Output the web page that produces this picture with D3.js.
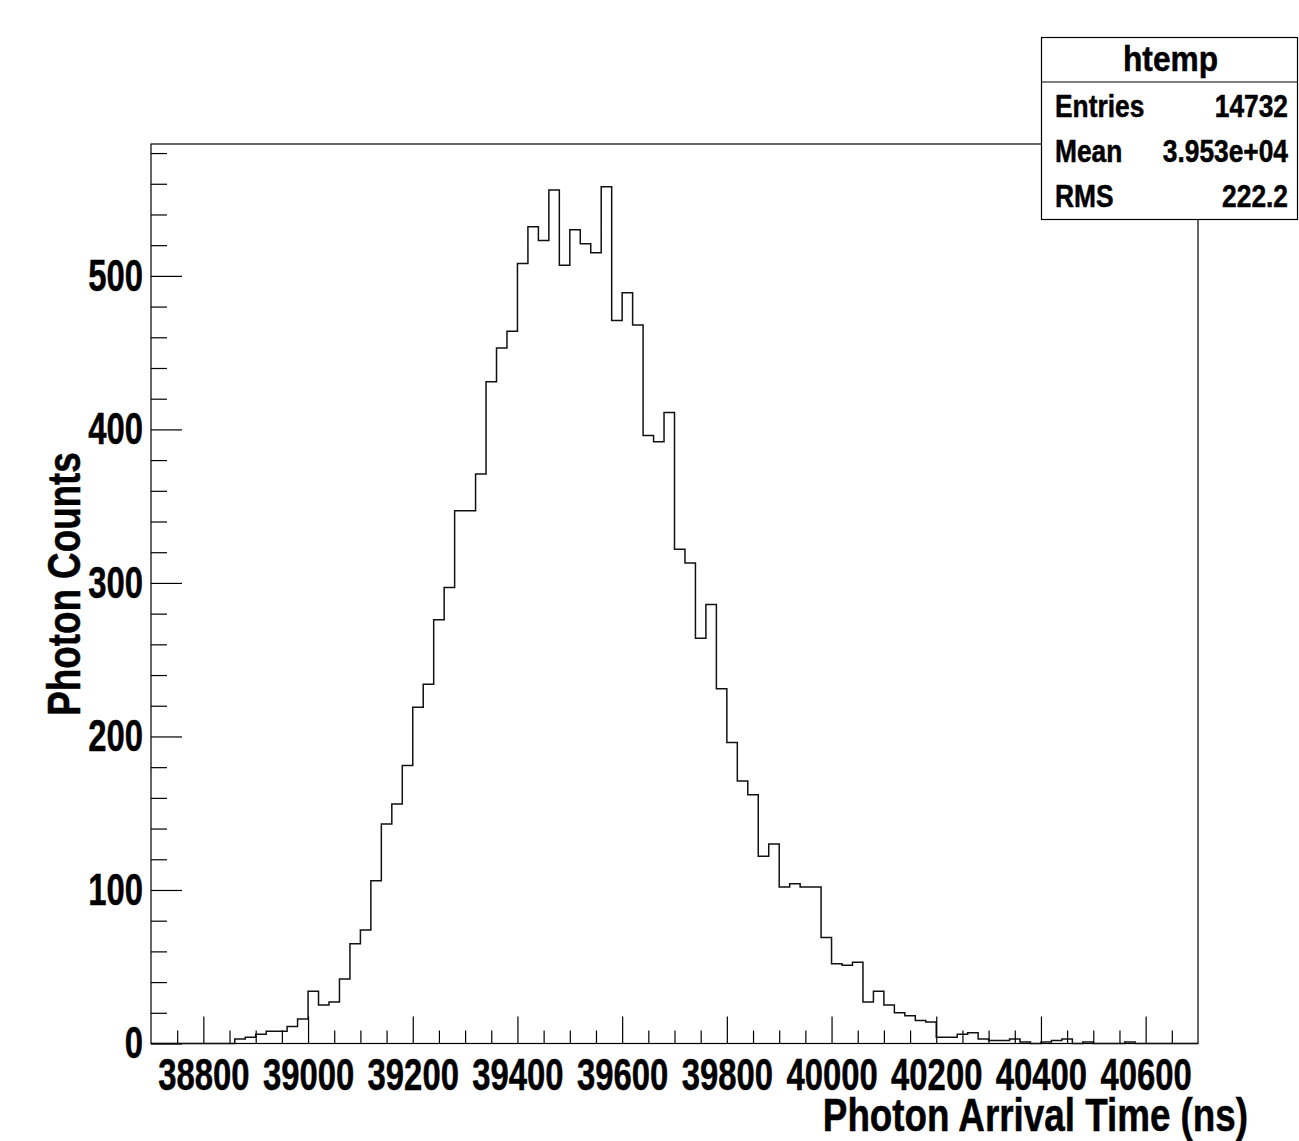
<!DOCTYPE html>
<html>
<head>
<meta charset="utf-8">
<script src="https://cdn.jsdelivr.net/npm/d3@7"></script>
<style>
  html, body { margin: 0; padding: 0; background: #fff; }
  svg text { font-family: "Liberation Sans", Arial, Helvetica, sans-serif; font-weight: bold; fill: #000; stroke: #000; stroke-width: 0.5; }
</style>
</head>
<body>
<svg id="chart" width="1299" height="1141"></svg>
<script>
// ---- data ----
const binLow = 38700;
const binWidth = 20;
const counts = [
  0, 0, 0, 0, 0, 0, 0, 0, 3, 4,
  6, 8, 8, 11, 16, 34, 25, 27, 42, 65,
  74, 106, 143, 156, 181, 219, 234, 276, 297, 347,
  347, 371, 431, 453, 464, 508, 532, 523, 556, 507,
  530, 521, 515, 558, 471, 489, 468, 396, 392, 411,
  322, 313, 264, 286, 231, 196, 171, 162, 122, 130,
  102, 104, 102, 102, 69, 52, 51, 53, 27, 34,
  25, 20, 18, 15, 14, 4, 4, 6, 7, 3,
  2, 2, 3, 1, 0, 1, 2, 3, 0, 1,
  0, 0, 0, 1, 0, 0, 0, 0, 0, 0
];
const xMajorTicks = [38800, 39000, 39200, 39400, 39600, 39800, 40000, 40200, 40400, 40600];
const yMajorTicks = [0, 100, 200, 300, 400, 500];
const statsTitle = "htemp";
const statsLabels = ["Entries", "Mean", "RMS"];
const statsValues = ["14732", "3.953e+04", "222.2"];
const xTitle = "Photon Arrival Time (ns)";
const yTitle = "Photon Counts";

// ---- layout ----
const svg = d3.select("#chart");
const L = 151, R = 1198, T = 144, B = 1043.5;
const xMax = binLow + binWidth * counts.length;
const x = d3.scaleLinear().domain([binLow, xMax]).range([L, R]);
const y = d3.scaleLinear().domain([0, 1.05 * d3.max(counts)]).range([B, T]);

svg.append("rect").attr("width", 1299).attr("height", 1141).attr("fill", "#fff");

// frame
svg.append("rect").attr("x", L).attr("y", T).attr("width", R - L).attr("height", B - T)
  .attr("fill", "none").attr("stroke", "#000").attr("stroke-width", 1.2);

// histogram
const pts = counts.map((c, i) => [binLow + i * binWidth, c]);
pts.push([xMax, counts[counts.length - 1]]);
const line = d3.line().x(d => x(d[0])).y(d => y(d[1])).curve(d3.curveStepAfter);
svg.append("path").attr("d", line(pts)).attr("fill", "none")
  .attr("stroke", "#111").attr("stroke-width", 1.5);

// axes
const sxAxis = 0.73;
const xMinor = d3.range(binLow, xMax + 1, 50).filter(v => !xMajorTicks.includes(v) && v > binLow && v < xMax);
const gxMinor = svg.append("g").attr("transform", `translate(0,${B})`)
  .call(d3.axisBottom(x).tickValues(xMinor).tickFormat("").tickSizeInner(-13).tickSizeOuter(0));
const gx = svg.append("g").attr("transform", `translate(0,${B})`)
  .call(d3.axisBottom(x).tickValues(xMajorTicks).tickFormat(d3.format("d")).tickSizeInner(-27).tickSizeOuter(0).tickPadding(15));
const yMinor = d3.range(0, 600, 20).filter(v => !yMajorTicks.includes(v) && y(v) > T);
const gyMinor = svg.append("g").attr("transform", `translate(${L},0)`)
  .call(d3.axisLeft(y).tickValues(yMinor).tickFormat("").tickSizeInner(-16).tickSizeOuter(0));
const gy = svg.append("g").attr("transform", `translate(${L},0)`)
  .call(d3.axisLeft(y).tickValues(yMajorTicks).tickFormat(d3.format("d")).tickSizeInner(-31).tickSizeOuter(0));

[gx, gxMinor, gy, gyMinor].forEach(g => {
  g.select(".domain").remove();
  g.selectAll(".tick line").attr("stroke", "#000").attr("stroke-width", 1.2);
});
gx.selectAll("text").attr("font-size", 45).attr("transform", `scale(${sxAxis},1)`);
gy.selectAll("text").attr("font-size", 45).attr("x", -8 / sxAxis).attr("transform", `scale(${sxAxis},1)`);

// axis titles
const sxTitle = 0.8;
svg.append("text").attr("transform", `translate(1248,1131) scale(${sxTitle},1)`)
  .attr("text-anchor", "end").attr("font-size", 46).text(xTitle);
svg.append("text").attr("transform", `translate(80,584) rotate(-90) scale(${sxTitle},1)`)
  .attr("text-anchor", "middle").attr("font-size", 46).text(yTitle);

// stats box
const bx = 1041.5, by = 37.5, bw = 256, bh = 182, sepY = 82;
svg.append("rect").attr("x", bx).attr("y", by).attr("width", bw).attr("height", bh)
  .attr("fill", "#fff").attr("stroke", "#000").attr("stroke-width", 1.2);
svg.append("line").attr("x1", bx).attr("x2", bx + bw).attr("y1", sepY).attr("y2", sepY)
  .attr("stroke", "#000").attr("stroke-width", 1.2);
svg.append("text").attr("transform", `translate(${bx + bw / 2 + 1},71) scale(0.88,1)`)
  .attr("text-anchor", "middle").attr("font-size", 36).text(statsTitle);
const rowBase = [117, 162, 207];
statsLabels.forEach((lab, i) => {
  svg.append("text").attr("transform", `translate(1055,${rowBase[i]}) scale(0.85,1)`)
    .attr("font-size", 31).text(lab);
  svg.append("text").attr("transform", `translate(1288,${rowBase[i]}) scale(0.85,1)`)
    .attr("text-anchor", "end").attr("font-size", 31).text(statsValues[i]);
});
</script>
</body>
</html>
